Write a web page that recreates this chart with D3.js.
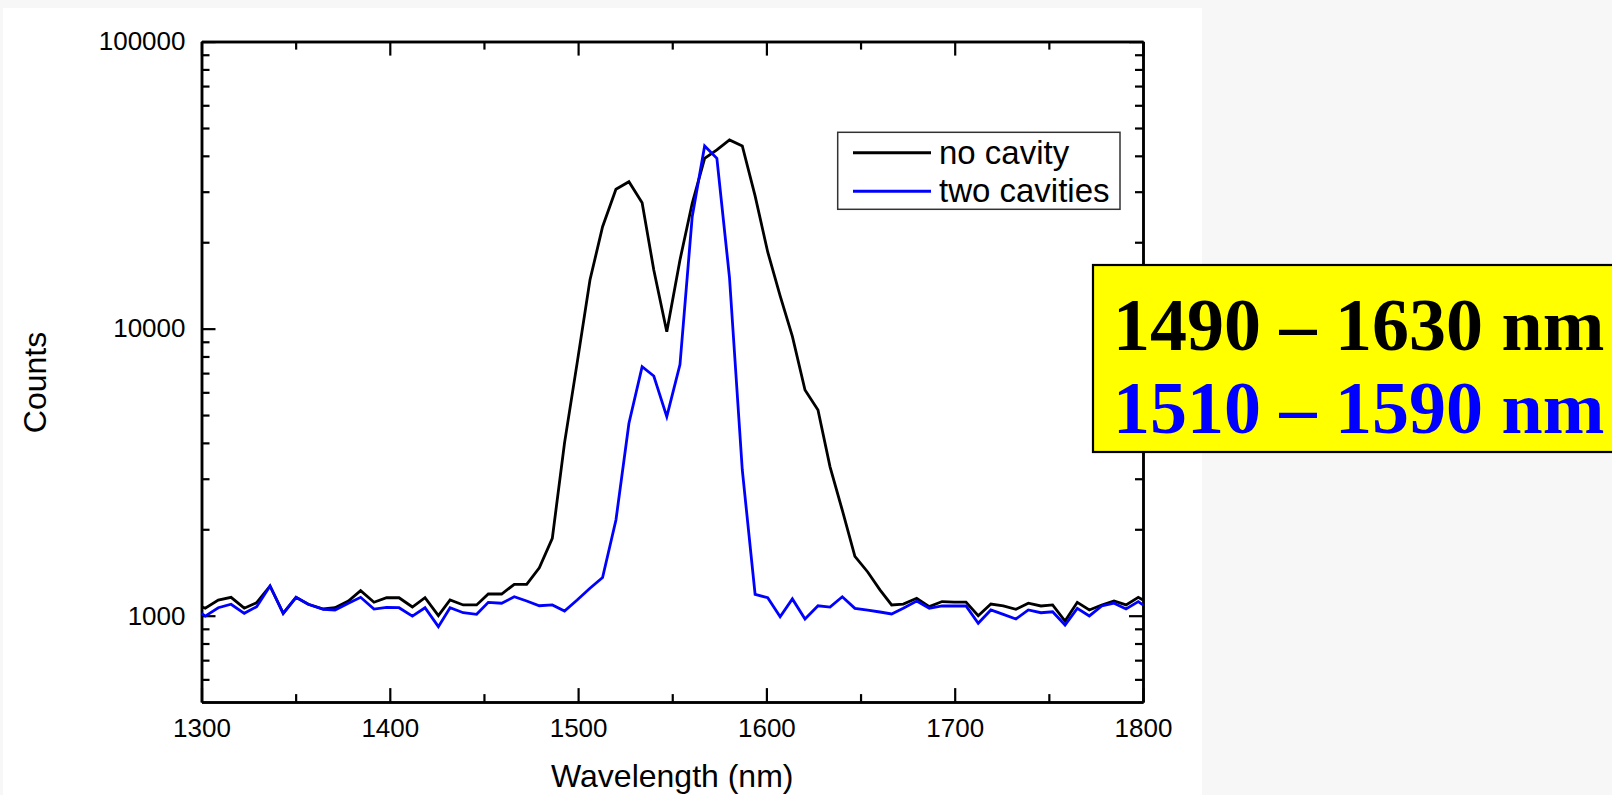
<!DOCTYPE html>
<html><head><meta charset="utf-8">
<script src="https://cdn.jsdelivr.net/npm/d3@7"></script>
<style>
html,body{margin:0;padding:0;background:#f7f7f7;overflow:hidden}
svg{display:block}
</style></head><body>
<svg id="chart" width="1612" height="795"></svg>
<script>
const wavelength = [1300.0, 1302.0, 1308.9, 1315.7, 1322.7, 1329.3, 1336.4, 1343.4, 1350.2, 1356.7, 1364.7, 1370.9, 1378.0, 1384.5, 1391.6, 1398.3, 1404.9, 1412.0, 1418.7, 1425.8, 1432.0, 1439.0, 1446.1, 1452.3, 1459.4, 1466.1, 1472.7, 1479.4, 1486.3, 1492.8, 1499.5, 1506.3, 1513.0, 1520.1, 1527.0, 1534.0, 1540.2, 1547.1, 1554.1, 1560.6, 1567.2, 1573.7, 1580.4, 1587.2, 1594.0, 1600.7, 1607.3, 1613.8, 1620.5, 1627.4, 1633.8, 1640.3, 1647.0, 1653.8, 1660.3, 1666.5, 1672.7, 1679.8, 1686.5, 1693.3, 1699.7, 1706.0, 1712.5, 1719.2, 1725.8, 1732.5, 1739.1, 1745.8, 1752.0, 1758.6, 1765.1, 1771.5, 1778.1, 1784.6, 1791.0, 1797.5, 1800.0];
const noCavity = [1075, 1062, 1134, 1159, 1062, 1110, 1269, 1019, 1159, 1096, 1055, 1066, 1125, 1222, 1114, 1155, 1155, 1072, 1155, 1000, 1134, 1090, 1090, 1190, 1190, 1286, 1286, 1469, 1860, 4000, 7600, 14770, 22650, 30590, 32510, 27470, 16010, 9760, 17350, 27340, 39220, 41930, 45420, 43280, 29000, 18500, 13000, 9400, 6110, 5210, 3300, 2330, 1610, 1420, 1230, 1090, 1098, 1150, 1075, 1120, 1115, 1115, 1000, 1098, 1081, 1053, 1105, 1081, 1090, 958, 1113, 1047, 1090, 1125, 1090, 1159, 1134];
const twoCavities = [1019, 997, 1066, 1096, 1019, 1075, 1269, 1019, 1159, 1096, 1052, 1047, 1105, 1159, 1055, 1069, 1066, 997, 1066, 916, 1066, 1024, 1011, 1113, 1105, 1164, 1125, 1083, 1090, 1038, 1134, 1246, 1358, 2155, 4680, 7370, 6840, 4935, 7500, 24550, 43280, 39220, 15070, 3218, 1187, 1155, 992, 1144, 974, 1083, 1072, 1164, 1061, 1045, 1030, 1014, 1061, 1125, 1061, 1081, 1081, 1081, 941, 1047, 1011, 974, 1047, 1024, 1032, 928, 1061, 998, 1081, 1105, 1055, 1119, 1090];
const xMajorTicks = [1300, 1400, 1500, 1600, 1700, 1800];
const xMinorTicks = [1350, 1450, 1550, 1650, 1750];
const yMajorTicks = [1000, 10000, 100000];
const yMinorTicks = [600, 700, 800, 900, 2000, 3000, 4000, 5000, 6000, 7000, 8000, 9000, 20000, 30000, 40000, 50000, 60000, 70000, 80000, 90000];
const xDomain = [1300, 1800];
const yDomain = [500, 100000];
const seriesNames = ["no cavity", "two cavities"];
const seriesColors = ["#000000", "#0000ff"];
const rangeLines = ["1490 – 1630 nm", "1510 – 1590 nm"];
const xTitle = "Wavelength (nm)";
const yTitle = "Counts";

const svg = d3.select("#chart");
const L = 201.5, R = 1143, T = 41.6, B = 702.1;
const x = d3.scaleLinear().domain(xDomain).range([L, R]);
const y = d3.scaleLog().domain(yDomain).range([B, T]);
const sans = "'Liberation Sans', Arial, sans-serif";

svg.append("rect").attr("x", 3).attr("y", 8).attr("width", 1199).attr("height", 787).attr("fill", "#ffffff");

function styleAxis(g, withLabels) {
  g.select(".domain").attr("stroke", "#000").attr("stroke-width", 2.5);
  g.selectAll(".tick line").attr("stroke", "#000").attr("stroke-width", 2.2);
  g.selectAll(".tick text").attr("font-family", sans).attr("font-size", 26).attr("fill", "#000");
  if (!withLabels) g.selectAll(".tick text").remove();
}
const fmt = d3.format("d");
// bottom
svg.append("g").attr("transform", `translate(0,${B})`)
  .call(d3.axisBottom(x).tickValues(xMajorTicks).tickSize(-14).tickSizeOuter(0).tickPadding(16).tickFormat(fmt))
  .call(g => styleAxis(g, true));
svg.append("g").attr("transform", `translate(0,${B})`)
  .call(d3.axisBottom(x).tickValues(xMinorTicks).tickSize(-8).tickSizeOuter(0).tickFormat(""))
  .call(g => styleAxis(g, false));
// top
svg.append("g").attr("transform", `translate(0,${T})`)
  .call(d3.axisTop(x).tickValues(xMajorTicks).tickSize(-14).tickSizeOuter(0).tickFormat(""))
  .call(g => styleAxis(g, false));
svg.append("g").attr("transform", `translate(0,${T})`)
  .call(d3.axisTop(x).tickValues(xMinorTicks).tickSize(-8).tickSizeOuter(0).tickFormat(""))
  .call(g => styleAxis(g, false));
// left
svg.append("g").attr("transform", `translate(${L},0)`)
  .call(d3.axisLeft(y).tickValues(yMajorTicks).tickSize(-14).tickSizeOuter(0).tickPadding(16).tickFormat(fmt))
  .call(g => styleAxis(g, true));
svg.append("g").attr("transform", `translate(${L},0)`)
  .call(d3.axisLeft(y).tickValues(yMinorTicks).tickSize(-8).tickSizeOuter(0).tickFormat(""))
  .call(g => styleAxis(g, false));
// right
svg.append("g").attr("transform", `translate(${R},0)`)
  .call(d3.axisRight(y).tickValues(yMajorTicks).tickSize(-14).tickSizeOuter(0).tickFormat(""))
  .call(g => styleAxis(g, false));
svg.append("g").attr("transform", `translate(${R},0)`)
  .call(d3.axisRight(y).tickValues(yMinorTicks).tickSize(-8).tickSizeOuter(0).tickFormat(""))
  .call(g => styleAxis(g, false));

// lines
const series = [noCavity, twoCavities];
const line = d3.line().x((d, i) => x(wavelength[i])).y(d => y(d));
series.forEach((s, si) => {
  svg.append("path").datum(s).attr("d", line)
    .attr("fill", "none").attr("stroke", seriesColors[si]).attr("stroke-width", 2.8)
    .attr("stroke-linejoin", "miter");
});

// legend
const lg = svg.append("g");
lg.append("rect").attr("x", 837.7).attr("y", 132.3).attr("width", 282.3).attr("height", 77)
  .attr("fill", "#fff").attr("stroke", "#333").attr("stroke-width", 1.5);
seriesNames.forEach((n, i) => {
  const ly = 152.7 + i * 38.6;
  lg.append("line").attr("x1", 853).attr("x2", 931).attr("y1", ly).attr("y2", ly)
    .attr("stroke", seriesColors[i]).attr("stroke-width", 3);
  lg.append("text").attr("x", 939).attr("y", ly + 10.8).text(n)
    .attr("font-family", sans).attr("font-size", 33).attr("fill", "#000");
});

// axis titles
svg.append("text").attr("x", (L + R) / 2).attr("y", 786.7).attr("text-anchor", "middle")
  .attr("font-family", sans).attr("font-size", 32).text(xTitle);
svg.append("text").attr("transform", "translate(45.5,382.5) rotate(-90)").attr("text-anchor", "middle")
  .attr("font-family", sans).attr("font-size", 32).text(yTitle);

// yellow callout
const cb = svg.append("g");
cb.append("rect").attr("x", 1093).attr("y", 265).attr("width", 540).attr("height", 187)
  .attr("fill", "#ffff00").attr("stroke", "#000").attr("stroke-width", 2.2);
rangeLines.forEach((t, i) => {
  cb.append("text").attr("x", 1113).attr("y", 350 + i * 83).text(t)
    .attr("font-family", "'Liberation Serif', 'Times New Roman', serif").attr("font-weight", "bold")
    .attr("font-size", 74).attr("fill", seriesColors[i]);
});
</script>
</body></html>
